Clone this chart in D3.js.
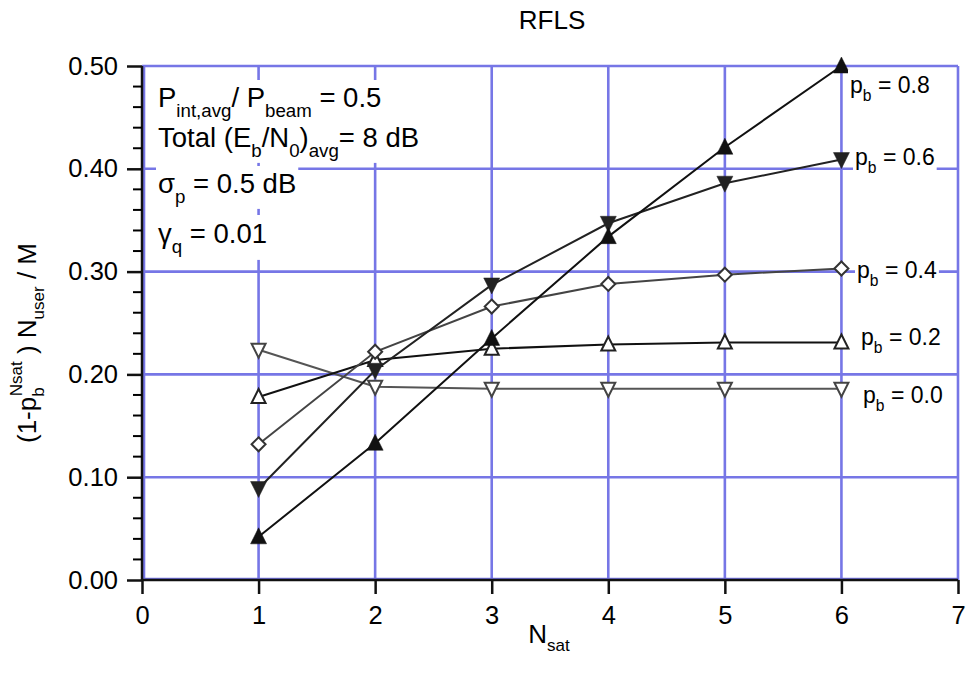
<!DOCTYPE html>
<html><head><meta charset="utf-8">
<script src="https://cdn.jsdelivr.net/npm/d3@7"></script>
<style>body{margin:0;background:#fff;} text{font-family:"Liberation Sans",Arial,sans-serif;fill:#000;}</style>
</head><body>
<svg id="c" width="966" height="680"></svg>
<script>
const nsat = [1, 2, 3, 4, 5, 6];
const pb08 = [0.042, 0.133, 0.235, 0.334, 0.421, 0.500];
const pb06 = [0.089, 0.204, 0.287, 0.347, 0.386, 0.409];
const pb04 = [0.132, 0.222, 0.266, 0.288, 0.297, 0.303];
const pb02 = [0.178, 0.214, 0.225, 0.229, 0.231, 0.231];
const pb00 = [0.224, 0.188, 0.186, 0.186, 0.186, 0.186];
const xTicks = [0, 1, 2, 3, 4, 5, 6, 7];
const yTicks = [0, 0.1, 0.2, 0.3, 0.4, 0.5];
const seriesLabels = ["0.8", "0.6", "0.4", "0.2", "0.0"];

const svg = d3.select("#c");
const x = d3.scaleLinear().domain([0, 7]).range([142, 958]);
const y = d3.scaleLinear().domain([0, 0.5]).range([580, 66]);
const gridColor = "#7676e6";

// grid
const g = svg.append("g");
g.selectAll(".gx").data(xTicks).enter().append("line")
  .attr("x1", d => x(d) + (d === 0 ? 2 : 0)).attr("x2", d => x(d) + (d === 0 ? 2 : 0))
  .attr("y1", y(0.5)).attr("y2", y(0))
  .attr("stroke", gridColor).attr("stroke-width", 2.6);
g.selectAll(".gy").data(yTicks).enter().append("line")
  .attr("y1", d => y(d) - (d === 0 ? 1 : 0)).attr("y2", d => y(d) - (d === 0 ? 1 : 0))
  .attr("x1", x(0)).attr("x2", x(7))
  .attr("stroke", gridColor).attr("stroke-width", 2.6);

// axes
const xAxis = d3.axisBottom(x).tickValues(xTicks).tickSize(14).tickPadding(12).tickFormat(d3.format("d"));
const xa = svg.append("g").attr("transform", `translate(0,${y(0)})`).call(xAxis);
const yAxis = d3.axisLeft(y).tickValues(yTicks).tickSize(15).tickPadding(9).tickFormat(d3.format(".2f"));
const ya = svg.append("g").attr("transform", `translate(${x(0)},0)`).call(yAxis);
const minor = d3.range(0, 0.5001, 0.02).filter(v => Math.abs(v * 10 - Math.round(v * 10)) > 1e-6);
ya.selectAll(".minor").data(minor).enter().append("line")
  .attr("x1", -9).attr("x2", 0).attr("y1", d => y(d)).attr("y2", d => y(d))
  .attr("stroke", "#000").attr("stroke-width", 2);
[xa, ya].forEach(a => {
  a.select(".domain").attr("stroke", "#111").attr("stroke-width", 2.5);
  a.selectAll(".tick line").attr("stroke", "#111").attr("stroke-width", 2.5);
  a.selectAll("text").attr("font-size", 25.5).attr("font-family", "Liberation Sans, Arial, sans-serif").attr("fill", "#000");
});
xa.select(".domain").attr("d", `M${x(0)},0H${x(7)}`);
ya.select(".domain").attr("d", `M0,${y(0)}V${y(0.5)}`);

// title and labels
svg.append("text").attr("x", 552).attr("y", 29).attr("text-anchor", "middle").attr("font-size", 26).text("RFLS");
const xl = svg.append("text").attr("x", 549).attr("y", 643).attr("text-anchor", "middle").attr("font-size", 26);
xl.append("tspan").text("N");
xl.append("tspan").attr("font-size", 17).attr("dy", 8).text("sat");

const yl = svg.append("text").attr("transform", "translate(36,343) rotate(-90)").attr("text-anchor", "middle").attr("font-size", 26);
yl.append("tspan").text("(1-p");
yl.append("tspan").attr("font-size", 17).attr("dy", 8).text("b");
yl.append("tspan").attr("font-size", 17).attr("dx", -9).attr("dy", -22).text("Nsat");
yl.append("tspan").attr("dy", 14).text(" ) N");
yl.append("tspan").attr("font-size", 17).attr("dy", 8).text("user");
yl.append("tspan").attr("dy", -8).text("   / M");

// helper for sub-script text
function richText(parent, xx, yy, parts, size) {
  const t = parent.append("text").attr("x", xx).attr("y", yy).attr("font-size", size);
  let prevSub = false;
  parts.forEach(p => {
    const isSub = p[0] === "_";
    const s = t.append("tspan").text(isSub ? p.slice(1) : p);
    if (isSub) { s.attr("font-size", size * 0.68); if (!prevSub) s.attr("dy", size * 0.36); }
    else if (prevSub) s.attr("dy", -size * 0.36);
    prevSub = isSub;
  });
  return t;
}
function backed(parent, fn, pad) {
  const grp = parent.append("g");
  const rect = grp.append("rect").attr("fill", "#fff");
  fn(grp);
  const b = grp.node().getBBox();
  rect.attr("x", b.x - pad).attr("y", b.y - pad).attr("width", b.width + 2 * pad).attr("height", b.height + 2 * pad);
  return grp;
}

const ann = svg.append("g");
backed(ann, p => {
  richText(p, 158, 107, ["P", "_int,avg", "/ P", "_beam", " = 0.5"], 27.5);
  richText(p, 158, 147, ["Total (E", "_b", "/N", "_0", ")", "_avg", "= 8 dB"], 27.5);
}, 2);
backed(ann, p => richText(p, 158, 193, ["σ", "_p", " = 0.5 dB"], 27.5), 2);
backed(ann, p => richText(p, 158, 243, ["γ", "_q", " = 0.01"], 27.5), 3);

// series
const series = [
  {v: pb00, line: "#555", stroke: "#444", fill: "#fff", shape: "down", lab: seriesLabels[4], lx: 863, ly: 403},
  {v: pb02, line: "#111", stroke: "#222", fill: "#fff", shape: "up", lab: seriesLabels[3], lx: 861, ly: 345},
  {v: pb04, line: "#444", stroke: "#333", fill: "#fff", shape: "diamond", lab: seriesLabels[2], lx: 857, ly: 278},
  {v: pb06, line: "#222", stroke: "#222", fill: "#222", shape: "down", lab: seriesLabels[1], lx: 855, ly: 165},
  {v: pb08, line: "#111", stroke: "#111", fill: "#111", shape: "up", lab: seriesLabels[0], lx: 850, ly: 93}
];
const shapes = {
  up: "M0,-9L8,7L-8,7Z",
  down: "M0,9L8,-7L-8,-7Z",
  diamond: "M0,-7.5L7.5,0L0,7.5L-7.5,0Z"
};
const openShapes = {
  up: "M0,-8L7,6L-7,6Z",
  down: "M0,8L7,-6L-7,-6Z",
  diamond: "M0,-7L7,0L0,7L-7,0Z"
};
const line = d3.line().x((d, i) => x(nsat[i])).y(d => y(d));
const sg = svg.append("g");
series.forEach(s => {
  sg.append("path").attr("d", line(s.v)).attr("fill", "none").attr("stroke", s.line).attr("stroke-width", 2);
});
series.forEach(s => {
  const open = s.fill === "#fff";
  sg.selectAll(null).data(s.v).enter().append("path")
    .attr("transform", (d, i) => `translate(${x(nsat[i])},${y(d)})`)
    .attr("d", open ? openShapes[s.shape] : shapes[s.shape])
    .attr("fill", s.fill).attr("stroke", s.stroke).attr("stroke-width", open ? 2 : 0.5);
});
// series labels
series.forEach(s => {
  backed(svg, p => richText(p, s.lx, s.ly, ["p", "_b", " = " + s.lab], 23), 2);
});
</script>
</body></html>
